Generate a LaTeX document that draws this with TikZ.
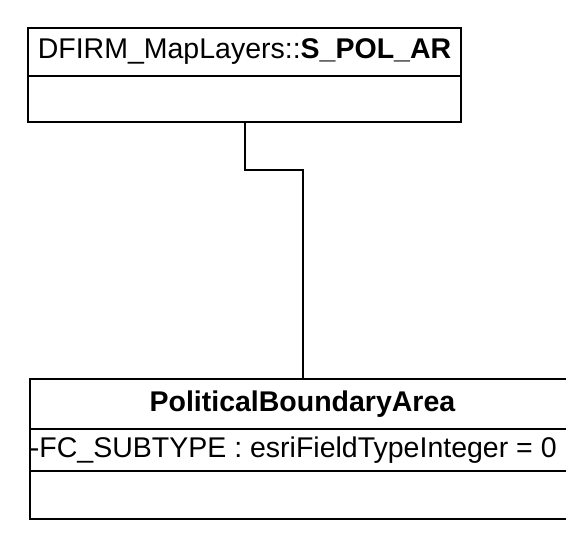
\documentclass[tikz,border=0pt]{standalone}
\usepackage{fontspec}
\setmainfont{Liberation Sans}
\usetikzlibrary{positioning}

\begin{document}
\begin{tikzpicture}[x=1pt, y=-1pt, line width=2pt,
  cell/.style={draw, inner sep=0pt, anchor=north west, minimum height=#1},
  umltext/.style={font=\fontsize{28.5}{30}\selectfont, inner sep=0pt}]

  \useasboundingbox (0,0) rectangle (566,533);

  % DFIRM_MapLayers::S_POL_AR
  \node[cell=48pt, minimum width=433pt] (layername) at (27,27) {};
  \node[cell=46pt, minimum width=433pt] (layerops) at (27,75) {};
  \node[umltext] (layertext) at (layername.center)
    {DFIRM\_MapLayers::\textbf{S\_POL\_AR}};

  % PoliticalBoundaryArea
  \node[cell=50pt, minimum width=545pt] (areaname) at (29,378) {};
  \node[cell=42pt, minimum width=545pt] (areaattr) at (29,428) {};
  \node[cell=48pt, minimum width=545pt] (areaops) at (29,470) {};
  \node[umltext] (areatext) at (areaname.center) {\textbf{PoliticalBoundaryArea}};
  \node[umltext, anchor=west] (attrtext) at (areaattr.west)
    {-FC\_SUBTYPE : esriFieldTypeInteger = 0};

  \coordinate (bend) at (245,170);
  \draw (layerops.south -| bend) -- (bend) -- (bend -| areaname.north)
    -- (areaname.north);

\end{tikzpicture}
\end{document}
